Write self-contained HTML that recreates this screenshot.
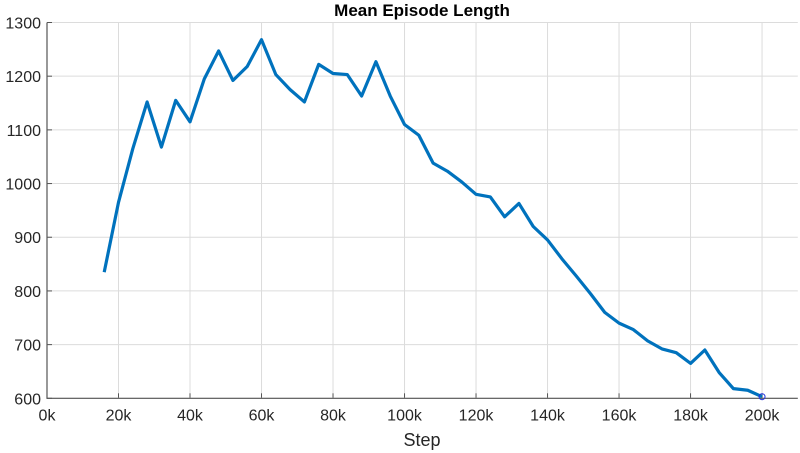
<!DOCTYPE html>
<html><head><meta charset="utf-8"><style>
html,body{margin:0;padding:0;background:#fff;width:800px;height:453px;overflow:hidden}
text{font-family:"Liberation Sans",sans-serif}
</style></head><body>
<svg id="chart" width="800" height="453" xmlns="http://www.w3.org/2000/svg"></svg>
<script>
const steps=[16,20,24,28,32,36,40,44,48,52,56,60,64,68,72,76,80,84,88,92,96,100,104,108,112,116,120,124,128,132,136,140,144,148,152,156,160,164,168,172,176,180,184,188,192,196,200];
const lengths=[835,965,1065,1152,1068,1155,1115,1195,1247,1192,1218,1268,1203,1175,1152,1222,1205,1203,1163,1227,1163,1110,1090,1038,1023,1003,980,975,938,963,920,895,860,828,795,760,740,728,707,692,685,665,690,648,618,615,603];
const xTicks=[0,20,40,60,80,100,120,140,160,180,200];
const yTicks=[600,700,800,900,1000,1100,1200,1300];
const X0=47,X1=797.8,Y0=398.3,Y1=22.5,XMAX=210,YMIN=600,YMAX=1300;
const xs=v=>X0+(X1-X0)*v/XMAX, ys=v=>Y0-(Y0-Y1)*(v-YMIN)/(YMAX-YMIN);
const svg=document.getElementById('chart');const NS='http://www.w3.org/2000/svg';
function mk(t,a,p){const e=document.createElementNS(NS,t);for(const k in a)e.setAttribute(k,a[k]);(p||svg).appendChild(e);return e;}
xTicks.forEach(t=>{const x=xs(t);
 const g=mk('line',{x1:x,x2:x,y1:Y1,y2:Y0,stroke:'#dcdcdc','stroke-width':1});
 
 
 const tk=mk('line',{x1:x,x2:x,y1:Y0,y2:Y0-5,stroke:'#555','stroke-width':1});
 
 
 const l=mk('text',{x:x,y:Y0+22,'text-anchor':'middle','font-size':16,fill:'#262626'});l.textContent=t+'k';
 
 });
yTicks.forEach(t=>{const y=ys(t);
 const g=mk('line',{x1:X0,x2:X1,y1:y,y2:y,stroke:'#dcdcdc','stroke-width':1});
 
 
 const tk=mk('line',{x1:X0,x2:X0+5,y1:y,y2:y,stroke:'#555','stroke-width':1});
 
 
 const l=mk('text',{x:X0-6,y:y+6,'text-anchor':'end','font-size':16,fill:'#262626'});l.textContent=t;
 
 });
const ax=mk('path',{d:`M${X0},${Y1}V${Y0}H${X1}`,fill:'none',stroke:'#555','stroke-width':1.2});


const line=mk('polyline',{points:steps.map((s,i)=>xs(s)+','+ys(lengths[i])).join(' '),fill:'none',stroke:'#0072BD','stroke-width':3.2,'stroke-linejoin':'round'});


const n=steps.length-1;
const m=mk('circle',{cx:xs(steps[n]),cy:ys(lengths[n]),r:3,fill:'none',stroke:'#2030e0','stroke-width':1});


const ti=mk('text',{x:422,y:16,'text-anchor':'middle','font-size':17,'font-weight':'bold',fill:'#000'});ti.textContent='Mean Episode Length';


const xl=mk('text',{x:422,y:446,'text-anchor':'middle','font-size':18,fill:'#262626'});xl.textContent='Step';


</script>
</body></html>
